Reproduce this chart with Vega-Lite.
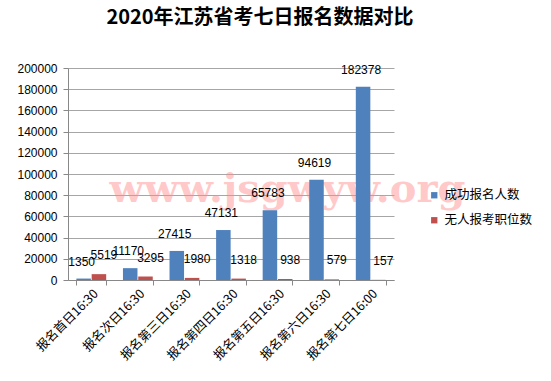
{
  "$schema": "https://vega.github.io/schema/vega-lite/v6.json",
  "width": 326,
  "height": 212,
  "autosize": {"type": "none"},
  "padding": {"left": 68, "top": 68, "right": 157, "bottom": 101},
  "background": "white",
  "title": {
    "text": "2020年江苏省考七日报名数据对比",
    "font": "Noto Sans CJK SC",
    "fontSize": 20,
    "fontWeight": "bold",
    "color": "black",
    "anchor": "middle",
    "dx": 29,
    "offset": 34
  },
  "datasets": {
    "main": [
      {"cat": "报名首日16:30", "series": "成功报名人数", "value": 1350},
      {"cat": "报名首日16:30", "series": "无人报考职位数", "value": 5519},
      {"cat": "报名次日16:30", "series": "成功报名人数", "value": 11170},
      {"cat": "报名次日16:30", "series": "无人报考职位数", "value": 3295},
      {"cat": "报名第三日16:30", "series": "成功报名人数", "value": 27415},
      {"cat": "报名第三日16:30", "series": "无人报考职位数", "value": 1980},
      {"cat": "报名第四日16:30", "series": "成功报名人数", "value": 47131},
      {"cat": "报名第四日16:30", "series": "无人报考职位数", "value": 1318},
      {"cat": "报名第五日16:30", "series": "成功报名人数", "value": 65783},
      {"cat": "报名第五日16:30", "series": "无人报考职位数", "value": 938},
      {"cat": "报名第六日16:30", "series": "成功报名人数", "value": 94619},
      {"cat": "报名第六日16:30", "series": "无人报考职位数", "value": 579},
      {"cat": "报名第七日16:00", "series": "成功报名人数", "value": 182378},
      {"cat": "报名第七日16:00", "series": "无人报考职位数", "value": 157}
    ],
    "mark": [
      {"cat": "报名第五日16:30", "value": 73600, "text": "www.jsgwyw.org"}
    ]
  },
  "encoding": {
    "x": {
      "field": "cat",
      "type": "nominal",
      "sort": null,
      "scale": {"domain": ["报名首日16:30", "报名次日16:30", "报名第三日16:30", "报名第四日16:30", "报名第五日16:30", "报名第六日16:30", "报名第七日16:00"], "paddingInner": 0.36, "paddingOuter": 0.18},
      "axis": {
        "title": null,
        "labelAngle": -45,
        "labelFont": "Noto Sans CJK SC",
        "labelFontSize": 12.5,
        "labelColor": "black",
        "domainColor": "#888888",
        "tickColor": "#888888",
        "tickBand": "extent",
        "tickSize": 5,
        "labelPadding": 2
      }
    },
    "y": {
      "field": "value",
      "type": "quantitative",
      "scale": {"domain": [0, 200000], "nice": false},
      "axis": {
        "title": null,
        "values": [0, 20000, 40000, 60000, 80000, 100000, 120000, 140000, 160000, 180000, 200000],
        "format": "d",
        "labelFont": "Liberation Sans",
        "labelFontSize": 12,
        "labelColor": "black",
        "grid": true,
        "gridColor": "#A6A6A6",
        "domainColor": "#888888",
        "tickColor": "#888888",
        "tickSize": 5,
        "labelPadding": 6
      }
    }
  },
  "layer": [
    {
      "data": {"name": "mark"},
      "mark": {"type": "text", "font": "DejaVu Serif", "fontWeight": "bold", "fontSize": 40, "color": "#FF8A8A", "opacity": 0.45, "baseline": "alphabetic", "align": "center", "dx": 10},
      "encoding": {"text": {"field": "text"}}
    },
    {
      "data": {"name": "main"},
      "mark": {"type": "bar"},
      "encoding": {
        "xOffset": {"field": "series", "type": "nominal", "scale": {"domain": ["成功报名人数", "无人报考职位数"], "paddingInner": 0.05}},
        "color": {
          "field": "series",
          "type": "nominal",
          "scale": {"domain": ["成功报名人数", "无人报考职位数"], "range": ["#4F81BD", "#C0504D"]},
          "legend": {
            "title": null,
            "orient": "none",
            "legendX": 360,
            "legendY": 121,
            "symbolType": "square",
            "symbolSize": 40,
            "labelFont": "Noto Sans CJK SC",
            "labelFontSize": 12.5,
            "labelColor": "black",
            "rowPadding": 12,
            "labelOffset": 4
          }
        }
      }
    },
    {
      "data": {"name": "main"},
      "transform": [{"filter": "datum.series === '成功报名人数'"}],
      "mark": {"type": "text", "font": "Liberation Sans", "fontSize": 12, "color": "black", "dy": -17, "dx": -2},
      "encoding": {
        "xOffset": {"field": "series", "type": "nominal"},
        "text": {"field": "value", "type": "quantitative", "format": "d"}
      }
    },
    {
      "data": {"name": "main"},
      "transform": [{"filter": "datum.series === '无人报考职位数'"}],
      "mark": {"type": "text", "font": "Liberation Sans", "fontSize": 12, "color": "black", "dy": -19, "dx": 5},
      "encoding": {
        "xOffset": {"field": "series", "type": "nominal"},
        "text": {"field": "value", "type": "quantitative", "format": "d"}
      }
    }
  ],
  "config": {
    "view": {"stroke": null}
  }
}
